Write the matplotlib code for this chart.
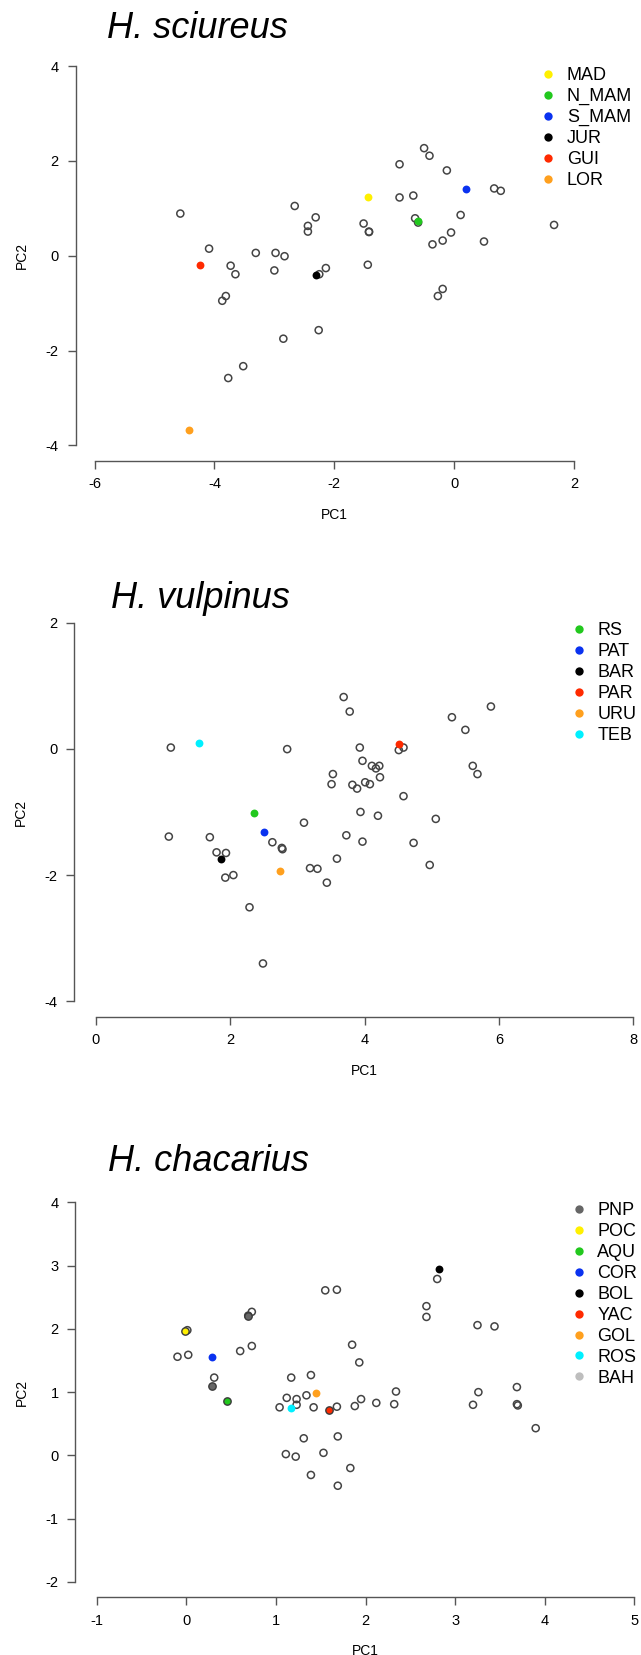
import numpy as np
import matplotlib.pyplot as plt
from matplotlib.lines import Line2D

plt.rcParams['font.family'] = ['Liberation Sans', 'DejaVu Sans']

# ---- H. sciureus ----
x1 = [-4.57, -2.66, -2.31, -2.44, -2.44, -1.51, -1.42, -1.42, -0.91, -0.91, -0.68, -0.50, -0.41, -0.12,
      0.67, 0.78, 0.11, -0.65, -0.60, 1.67, -0.05, -0.19, -0.36, 0.50, -4.09, -3.31, -2.98, -2.83,
      -3.73, -3.65, -3.00, -2.25, -2.14, -1.44, -3.81, -3.87, -0.19, -0.27, -2.26, -2.85, -3.52, -3.77]
y1 = [0.89, 1.05, 0.81, 0.63, 0.51, 0.68, 0.51, 0.50, 1.93, 1.23, 1.27, 2.27, 2.11, 1.80,
      1.42, 1.37, 0.86, 0.79, 0.70, 0.65, 0.49, 0.32, 0.24, 0.30, 0.15, 0.06, 0.06, -0.01,
      -0.21, -0.39, -0.31, -0.39, -0.26, -0.19, -0.85, -0.95, -0.70, -0.85, -1.57, -1.75, -2.33, -2.58]
names1 = ['MAD', 'N_MAM', 'S_MAM', 'JUR', 'GUI', 'LOR']
colors1 = ['#FFF000', '#22C81E', '#0A32F0', '#000000', '#FF2A00', '#FFA01E']
gx1 = [[-1.44], [-0.60], [0.20], [-2.30], [-4.24], [-4.42]]
gy1 = [[1.245], [0.73], [1.41], [-0.41], [-0.19], [-3.68]]

# ---- H. vulpinus ----
x2 = [1.12, 2.85, 3.69, 3.78, 3.93, 4.51, 4.58, 5.30, 5.50, 5.88, 3.97, 4.11, 4.17, 4.22, 4.23, 3.53,
      3.51, 3.82, 3.89, 4.01, 4.08, 4.58, 5.61, 5.68, 3.94, 4.20, 3.10, 5.06, 1.09, 1.70, 2.63, 2.77,
      2.78, 3.73, 3.97, 4.73, 1.80, 1.94, 3.59, 3.19, 3.30, 4.97, 1.93, 2.05, 3.44, 2.29, 2.49]
y2 = [0.02, -0.005, 0.82, 0.59, 0.02, -0.02, 0.02, 0.50, 0.30, 0.67, -0.19, -0.27, -0.31, -0.27, -0.45, -0.40,
      -0.56, -0.57, -0.63, -0.53, -0.56, -0.75, -0.27, -0.40, -1.00, -1.06, -1.17, -1.11, -1.39, -1.40, -1.48, -1.57,
      -1.59, -1.37, -1.47, -1.49, -1.64, -1.65, -1.74, -1.89, -1.90, -1.84, -2.04, -2.00, -2.12, -2.51, -3.40]
names2 = ['RS', 'PAT', 'BAR', 'PAR', 'URU', 'TEB']
colors2 = ['#22C81E', '#0A32F0', '#000000', '#FF2A00', '#FFA01E', '#00F0FF']
gx2 = [[2.35], [2.50], [1.87], [4.51], [2.74], [1.54]]
gy2 = [[-1.02], [-1.32], [-1.74], [0.07], [-1.93], [0.09]]

# ---- H. chacarius ----
x3 = [2.80, 1.55, 1.68, 2.68, 2.68, 3.25, 3.44, 0.69, 0.73, 0.01, -0.10, 0.02, 0.60, 0.73, 1.85,
      1.93, 0.31, 1.17, 1.39, 2.34, 3.26, 3.69, 1.12, 1.23, 1.34, 1.04, 1.23, 1.42, 1.68, 1.88,
      1.95, 2.12, 2.32, 3.20, 3.69, 3.70, 3.90, 1.31, 1.69, 1.11, 1.22, 1.53, 1.83, 1.39, 1.69]
y3 = [2.79, 2.61, 2.62, 2.36, 2.19, 2.06, 2.04, 2.21, 2.27, 1.98, 1.56, 1.59, 1.65, 1.73, 1.75,
      1.47, 1.23, 1.23, 1.27, 1.01, 1.00, 1.08, 0.91, 0.89, 0.95, 0.76, 0.80, 0.76, 0.77, 0.78,
      0.89, 0.83, 0.81, 0.80, 0.81, 0.79, 0.43, 0.27, 0.30, 0.02, -0.02, 0.04, -0.20, -0.31, -0.48]
names3 = ['PNP', 'POC', 'AQU', 'COR', 'BOL', 'YAC', 'GOL', 'ROS', 'BAH']
colors3 = ['#666666', '#FFF000', '#22C81E', '#0A32F0', '#000000', '#FF2A00', '#FFA01E', '#00F0FF', '#BEBEBE']
gx3 = [[0.28, 0.69], [-0.02], [0.45], [0.28], [2.82], [1.59], [1.45], [1.17], []]
gy3 = [[1.10, 2.21], [1.96], [0.86], [1.56], [2.95], [0.72], [0.99], [0.75], []]
edged3 = ['PNP', 'POC', 'AQU', 'YAC']

titles = ['H. sciureus', 'H. vulpinus', 'H. chacarius']
xlims = [(-6, 2), (0, 8), (-1, 5)]
ylims = [(-4, 4), (-4, 2), (-2, 4)]
xticks = [np.arange(-6, 3, 2), np.arange(0, 9, 2), np.arange(-1, 6, 1)]
yticks = [np.arange(-4, 5, 2), np.arange(-4, 3, 2), np.arange(-2, 5, 1)]

W, H = 641, 1655
# axes boxes in pixels: left, top, right, bottom
boxes = [(75.5, 51, 593, 460.5), (74, 607.4, 655, 1016.5), (75.4, 1187.3, 655.7, 1597)]
title_pos = [(107, 38), (111, 608), (108, 1171)]
legend_pos = [(548, 76), (579, 631), (578.5, 1211)]

fig = plt.figure(figsize=(W / 100, H / 100), dpi=100)

panels = [(x1, y1, names1, colors1, gx1, gy1, []),
          (x2, y2, names2, colors2, gx2, gy2, []),
          (x3, y3, names3, colors3, gx3, gy3, edged3)]

for i, (xs, ys, names, cols, gxs, gys, edged) in enumerate(panels):
    l, t, r, b = boxes[i]
    ax = fig.add_axes([l / W, 1 - b / H, (r - l) / W, (b - t) / H])
    ax.scatter(xs, ys, s=26, facecolors='none', edgecolors='#444444', linewidths=1.1, zorder=2)
    for nm, c, gx, gy in zip(names, cols, gxs, gys):
        if nm in edged:
            ax.scatter(gx, gy, s=28, color=c, edgecolors='#3a3a3a', linewidths=1.0, zorder=3)
        else:
            ax.scatter(gx, gy, s=32, color=c, linewidths=0, zorder=3)

    x0, x1_ = xlims[i]
    y0, y1_ = ylims[i]
    px = 0.04 * (x1_ - x0)
    py = 0.04 * (y1_ - y0)
    ax.set_xlim(x0 - px, x1_ + px)
    ax.set_ylim(y0 - py, y1_ + py)
    ax.set_xticks(xticks[i])
    ax.set_yticks(yticks[i])
    ax.set_xticklabels([str(v) for v in xticks[i]])
    ax.set_yticklabels([str(v) for v in yticks[i]])
    for s in ['top', 'right']:
        ax.spines[s].set_visible(False)
    ax.spines['left'].set_bounds(y0, y1_)
    ax.spines['bottom'].set_bounds(x0, x1_)
    for s in ['left', 'bottom']:
        ax.spines[s].set_color('#555555')
        ax.spines[s].set_linewidth(1.0)
    ax.tick_params(direction='out', length=6, width=1.0, color='#555555',
                   labelsize=10.5, pad=6, labelcolor='black')
    ax.set_xlabel('PC1', fontsize=10, labelpad=12)
    ax.set_ylabel('PC2', fontsize=10, labelpad=12)
    ax.patch.set_visible(False)

    tx, ty = title_pos[i]
    fig.text(tx / W, 1 - ty / H, titles[i], fontsize=26, style='italic', va='baseline', ha='left')

    handles = [Line2D([], [], marker='o', linestyle='none', markersize=6,
                      markerfacecolor=c, markeredgewidth=0, color=c) for c in cols]
    lx, ly = legend_pos[i]
    fs_px = 13 * 100 / 72
    ax.legend(handles, names, loc='upper left', frameon=False, fontsize=13,
              handlelength=0.8, handletextpad=0.65, labelspacing=0.22, borderpad=0,
              borderaxespad=0,
              bbox_to_anchor=((lx - 0.4 * fs_px) / W, 1 - (ly - 9) / H),
              bbox_transform=fig.transFigure)

fig.savefig('out.png', dpi=100)
